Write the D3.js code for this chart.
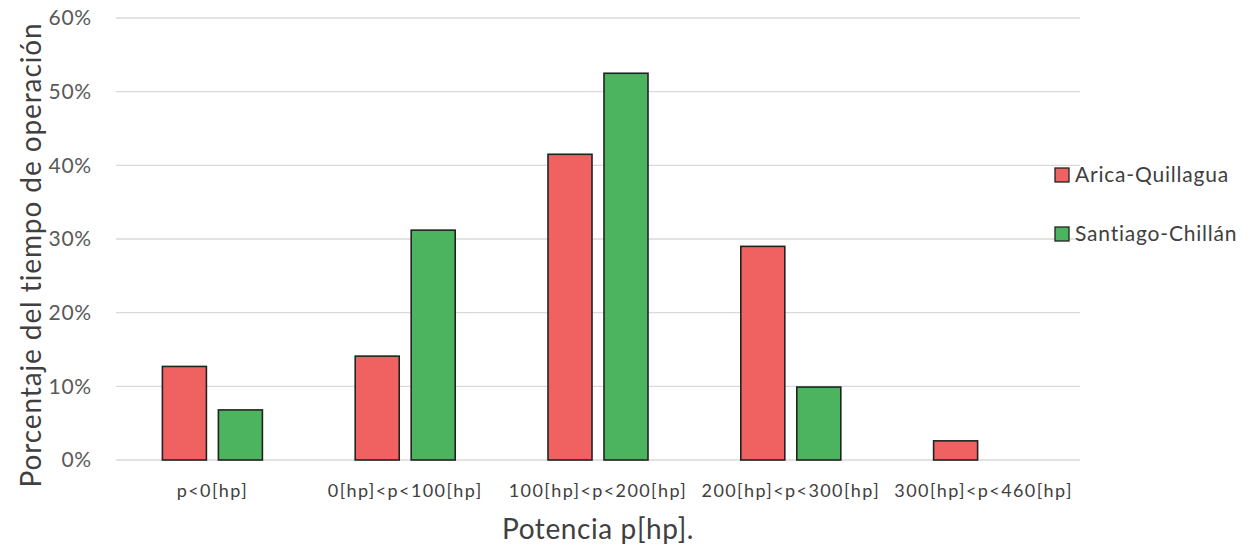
<!DOCTYPE html>
<html>
<head>
<meta charset="utf-8">
<script src="https://cdn.jsdelivr.net/npm/d3@7"></script>
<style>
  html, body { margin: 0; padding: 0; background: #fff; }
  svg { display: block; font-family: Lato, "Open Sans", sans-serif; }
</style>
</head>
<body>
<svg id="chart" width="1256" height="550"></svg>
<script>
// Operating-time share by power band, two routes
const categories = ["p<0[hp]", "0[hp]<p<100[hp]", "100[hp]<p<200[hp]", "200[hp]<p<300[hp]", "300[hp]<p<460[hp]"];
const seriesNames = ["Arica-Quillagua", "Santiago-Chillán"];
const aricaQuillagua = [0.127, 0.141, 0.415, 0.290, 0.026];
const santiagoChillan = [0.068, 0.312, 0.525, 0.099, 0];
const yTicks = [0, 0.1, 0.2, 0.3, 0.4, 0.5, 0.6];
const colors = ["#F06262", "#4CB35F"];

const svg = d3.select("#chart");
const margin = { left: 116, right: 176, top: 18, bottom: 90 };
const W = 1256, H = 550;
const x0 = margin.left, x1 = W - margin.right;
const yTop = margin.top, yBot = H - margin.bottom;

const x = d3.scaleBand().domain(categories).range([x0, x1]).paddingInner(0).paddingOuter(0);
const groupW = 100;
const xs = d3.scaleBand().domain(seriesNames)
  .range([x.bandwidth() / 2 - groupW / 2, x.bandwidth() / 2 + groupW / 2])
  .paddingInner(0.214).paddingOuter(0);
const y = d3.scaleLinear().domain([0, 0.6]).range([yBot, yTop]);

// gridlines
svg.append("g").selectAll("line").data(yTicks).join("line")
  .attr("x1", x0).attr("x2", x1)
  .attr("y1", d => y(d)).attr("y2", d => y(d))
  .attr("stroke", "#d9d9d9").attr("stroke-width", 1.3);

// y tick labels
const yAxis = d3.axisLeft(y).tickValues(yTicks).tickFormat(d3.format(".0%")).tickSize(0).tickPadding(24);
const gy = svg.append("g").attr("transform", `translate(${x0},0)`).call(yAxis);
gy.select(".domain").remove();
gy.selectAll("text").attr("font-size", 21).attr("letter-spacing", 0.8)
  .attr("fill", "#595959").attr("font-family", "Lato, sans-serif");

// bars
const data = categories.map((c, i) => ({ cat: c, vals: [aricaQuillagua[i], santiagoChillan[i]] }));
const groups = svg.append("g").selectAll("g").data(data).join("g")
  .attr("transform", d => `translate(${x(d.cat)},0)`);
groups.selectAll("rect")
  .data(d => d.vals.map((v, k) => ({ v, k })).filter(o => o.v > 0))
  .join("rect")
  .attr("x", o => xs(seriesNames[o.k]))
  .attr("width", xs.bandwidth())
  .attr("y", o => y(o.v))
  .attr("height", o => y(0) - y(o.v))
  .attr("fill", o => colors[o.k])
  .attr("stroke", "#222")
  .attr("stroke-width", 1.6);

// x category labels
const xAxis = d3.axisBottom(x).tickSize(0).tickPadding(24);
const gx = svg.append("g").attr("transform", `translate(0,${yBot})`).call(xAxis);
gx.select(".domain").remove();
gx.selectAll("text").attr("font-size", 18).attr("letter-spacing", 1.4)
  .attr("fill", "#404040").attr("font-family", "Lato, sans-serif");

// axis titles
svg.append("text")
  .attr("x", 598).attr("y", 539)
  .attr("text-anchor", "middle").attr("font-size", 28).attr("letter-spacing", 0.6)
  .attr("fill", "#404040")
  .text("Potencia p[hp].");
svg.append("text")
  .attr("transform", `translate(41,${(20 + 490) / 2}) rotate(-90)`)
  .attr("text-anchor", "middle").attr("font-size", 28).attr("letter-spacing", 0.9)
  .attr("fill", "#404040")
  .text("Porcentaje del tiempo de operación");

// legend
const legend = svg.append("g").selectAll("g").data(seriesNames).join("g")
  .attr("transform", (d, i) => `translate(1055,${168 + i * 59})`);
legend.append("rect").attr("width", 14).attr("height", 14)
  .attr("fill", (d, i) => colors[i]).attr("stroke", "#222").attr("stroke-width", 1.3);
legend.append("text").attr("x", 20).attr("y", 14)
  .attr("font-size", 21).attr("letter-spacing", 0.8)
  .attr("fill", "#404040").text(d => d);
</script>
</body>
</html>
